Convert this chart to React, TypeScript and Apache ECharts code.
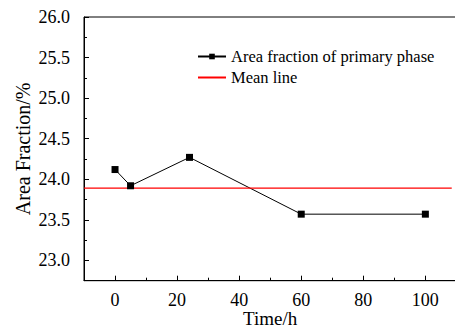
import React, { useEffect, useRef } from "react";
import * as echarts from "echarts";

const timeH = [0, 5, 24, 60, 100];
const areaFraction = [24.12, 23.92, 24.27, 23.57, 23.57];
const meanValue = 23.89;
const meanLineX = [-10, 108.5];
const xMajorTicks = [0, 20, 40, 60, 80, 100];
const xMinorTicks = [10, 30, 50, 70, 90];
const yMajorTicks = [23.0, 23.5, 24.0, 24.5, 25.0, 25.5, 26.0];
const yMinorTicks = [22.75, 23.25, 23.75, 24.25, 24.75, 25.25, 25.75];
const seriesNames = ["Area fraction of primary phase", "Mean line"];

const FONT = "Liberation Serif";

export default function App() {
  const ref = useRef<HTMLDivElement>(null);
  useEffect(() => {
    document.body.style.margin = "0";
    const chart = echarts.init(ref.current!, null, { renderer: "svg" });
    const common = { min: -10, max: 110, type: "value" as const };
    chart.setOption({
      animation: false,
      backgroundColor: "#ffffff",
      textStyle: { fontFamily: FONT, color: "#000" },
      grid: {
        left: 84,
        top: 17,
        width: 372.4,
        bottom: 50.3,
        show: true,
        borderColor: "#000",
        borderWidth: 1,
        containLabel: false,
        outerBoundsMode: "none",
      },
      legend: {
        orient: "vertical",
        left: 192,
        top: 43,
        itemWidth: 28,
        itemHeight: 7,
        itemGap: 4,
        textStyle: { fontFamily: FONT, fontSize: 16.5, color: "#000" },
        data: [
          { name: seriesNames[0] },
          { name: seriesNames[1], itemStyle: { opacity: 0 } },
        ],
      },
      xAxis: [
        {
          ...common,
          position: "bottom",
          name: "Time/h",
          nameLocation: "middle",
          nameGap: 28,
          nameMoveOverlap: false,
          nameTextStyle: { fontFamily: FONT, fontSize: 19, color: "#000", lineHeight: 19 },
          axisLine: { show: true, onZero: false, lineStyle: { color: "#000", width: 1 } },
          axisTick: { show: true, inside: true, length: 5, customValues: xMajorTicks, lineStyle: { color: "#000" } },
          axisLabel: { show: true, customValues: xMajorTicks, fontFamily: FONT, fontSize: 18, color: "#000", margin: 10 },
          splitLine: { show: false },
        },
        {
          ...common,
          position: "bottom",
          axisLine: { show: false, onZero: false },
          axisTick: { show: true, inside: true, length: 3, customValues: xMinorTicks, lineStyle: { color: "#000" } },
          axisLabel: { show: false },
          splitLine: { show: false },
        },
      ],
      yAxis: [
        {
          type: "value",
          min: 22.75,
          max: 26,
          position: "left",
          name: "Area Fraction/%",
          nameLocation: "middle",
          nameGap: 51,
          nameMoveOverlap: false,
          nameTextStyle: { fontFamily: FONT, fontSize: 20, color: "#000" },
          axisLine: { show: true, onZero: false, lineStyle: { color: "#000", width: 1 } },
          axisTick: { show: true, inside: true, length: 5, customValues: yMajorTicks, lineStyle: { color: "#000" } },
          axisLabel: {
            show: true,
            customValues: yMajorTicks,
            fontFamily: FONT,
            fontSize: 18,
            color: "#000",
            margin: 14,
            formatter: (v: number) => v.toFixed(1),
          },
          splitLine: { show: false },
        },
        {
          type: "value",
          min: 22.75,
          max: 26,
          position: "left",
          axisLine: { show: false, onZero: false },
          axisTick: { show: true, inside: true, length: 3, customValues: yMinorTicks, lineStyle: { color: "#000" } },
          axisLabel: { show: false },
          splitLine: { show: false },
        },
      ],
      series: [
        {
          name: seriesNames[0],
          type: "line",
          xAxisIndex: 0,
          yAxisIndex: 0,
          data: timeH.map((t, i) => [t, areaFraction[i]]),
          symbol: "rect",
          symbolSize: 7,
          showAllSymbol: true,
          lineStyle: { color: "#000", width: 1 },
          itemStyle: { color: "#000" },
        },
        {
          name: seriesNames[1],
          type: "line",
          xAxisIndex: 0,
          yAxisIndex: 0,
          data: meanLineX.map((x) => [x, meanValue]),
          symbol: "none",
          lineStyle: { color: "#ff0000", width: 1.2 },
          itemStyle: { color: "#ff0000" },
        },
      ],
    });
    return () => chart.dispose();
  }, []);
  return <div ref={ref} style={{ position: "fixed", left: 0, top: 0, width: 455, height: 331 }} />;
}
